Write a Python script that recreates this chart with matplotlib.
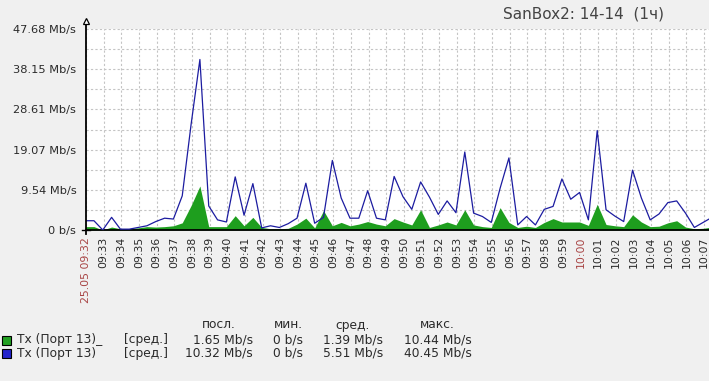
import numpy as np
import pandas as pd
import matplotlib
matplotlib.use('Agg')
import matplotlib.pyplot as plt
import matplotlib.dates as mdates
from matplotlib.patches import Rectangle

# ---------------- data ----------------
sample_start = '2023-05-25 09:31:57'   # 30 s sampling
blue_mbps = [2.2, 2.2, 0.0, 3.0, 0.2, 0.2, 0.6, 1.0, 2.0, 2.8,
             2.6, 8.1, 25.0, 40.45, 5.7, 2.4, 1.9, 12.6, 3.5, 11.0,
             0.5, 1.0, 0.6, 1.5, 2.8, 11.1, 1.6, 3.0, 16.5, 7.6,
             2.8, 2.8, 9.3, 2.8, 2.4, 12.7, 7.9, 4.9, 11.4, 7.8,
             3.7, 6.9, 4.1, 18.5, 4.0, 3.2, 1.8, 9.9, 17.1, 1.2,
             3.2, 1.2, 4.9, 5.6, 12.1, 7.3, 8.9, 2.4, 23.6, 4.8,
             3.3, 2.0, 14.2, 7.6, 2.4, 3.8, 6.5, 6.9, 4.0, 0.6,
             1.8, 3.0]
green_mbps = [0.8, 0.8, 0.0, 0.7, 0.3, 0.35, 0.5, 0.8, 0.7, 0.8,
              1.0, 1.7, 5.8, 10.44, 0.8, 0.8, 0.8, 3.4, 1.0, 3.0,
              0.6, 0.3, 0.3, 0.4, 1.4, 2.8, 0.5, 4.6, 1.0, 1.8,
              1.0, 1.4, 2.0, 1.4, 1.0, 2.7, 1.9, 1.2, 4.8, 0.6,
              1.2, 1.9, 1.2, 4.8, 1.2, 0.8, 0.6, 5.3, 1.8, 0.6,
              0.9, 0.6, 1.8, 2.7, 1.9, 1.9, 1.9, 1.1, 6.1, 1.3,
              1.0, 0.8, 3.6, 1.9, 0.8, 0.9, 1.7, 2.2, 0.7, 0.3,
              0.4, 0.7]

y_tick_values = [0, 9.536, 19.072, 28.608, 38.144, 47.68]
y_tick_labels = ['0 b/s', '9.54 Mb/s', '19.07 Mb/s', '28.61 Mb/s', '38.15 Mb/s', '47.68 Mb/s']
x_tick_labels = ['25.05 09:32'] + ['09:%02d' % m for m in range(33, 60)] + ['10:00'] + \
                ['10:%02d' % m for m in range(1, 8)]
red_tick_labels = ['25.05 09:32', '10:00']

title = 'SanBox2: 14-14  (1ч)'
legend_names = ['Tx (Порт 13)_', 'Tx (Порт 13)']
legend_func = '[сред.]'
legend_headers = ['посл.', 'мин.', 'сред.', 'макс.']
legend_last = ['1.65 Mb/s', '10.32 Mb/s']
legend_min = ['0 b/s', '0 b/s']
legend_avg = ['1.39 Mb/s', '5.51 Mb/s']
legend_max = ['10.44 Mb/s', '40.45 Mb/s']

green_color = '#1E9E1E'
blue_color = '#1C1CA0'
green_legend = '#22A022'
blue_legend = '#2222CC'
red_text = '#A84444'

# ---------------- figure ----------------
W, H = 709, 381
fig = plt.figure(figsize=(W / 100, H / 100), dpi=100, facecolor='#f0f0f0')
ax = fig.add_axes([86 / W, (H - 230) / H, 623 / W, 201 / H])
ax.set_facecolor('white')

times = pd.date_range(sample_start, periods=len(blue_mbps), freq='30s')
x_ticks = pd.date_range('2023-05-25 09:32', periods=len(x_tick_labels), freq='1min')

ax.fill_between(times, green_mbps, 0, color=green_color, lw=0, zorder=2)
ax.plot(times, blue_mbps, color=blue_color, lw=0.9, zorder=3)

x0 = mdates.date2num(pd.Timestamp('2023-05-25 09:32'))
ax.set_xlim(x0, x0 + 35.28 / 1440)
ax.set_ylim(0, 47.68)

ax.set_yticks(y_tick_values)
ax.set_yticklabels(y_tick_labels)
ax.set_yticks([4.768 * i for i in range(1, 11, 2)], minor=True)
ax.set_xticks(mdates.date2num(x_ticks))
ax.set_xticklabels(x_tick_labels, rotation=90, va='top', ha='center')

grid_kw = dict(color='#c4c4c4', linestyle=(0, (2, 2)), linewidth=0.8)
ax.grid(True, which='both', axis='both', zorder=1, **grid_kw)
ax.set_axisbelow(True)

ax.tick_params(axis='y', which='both', length=0, pad=7, labelsize=8.2, labelcolor='#2a2a2a')
ax.tick_params(axis='x', which='both', length=0, pad=5, labelsize=7.8, labelcolor='#2a2a2a')
for lbl in ax.get_xticklabels():
    if lbl.get_text() in red_tick_labels:
        lbl.set_color(red_text)

for side in ['top', 'right']:
    ax.spines[side].set_visible(False)
ax.spines['bottom'].set_color('black')
ax.spines['bottom'].set_linewidth(1.3)
ax.spines['left'].set_visible(False)
ax.plot([0, 0], [-0.02, 1.03], transform=ax.transAxes, color='black', lw=1.3, clip_on=False, zorder=5)
ax.plot([-0.006, 0.006], [0, 0], transform=ax.transAxes, color='black', lw=1.0, clip_on=False, zorder=5)
ax.plot([0], [1.04], transform=ax.transAxes, marker='^', ms=5, mfc='white', mec='black', mew=0.9,
        clip_on=False, zorder=6)

def px(x, y):
    return x / W, 1 - y / H

fig.text(*px(503, 14), title, fontsize=11, color='#444444', ha='left', va='center')

fs = 8.8
tc = '#2a2a2a'
header_x = [219, 288, 353, 437]
for hx, ht in zip(header_x, legend_headers):
    fig.text(*px(hx, 325), ht, fontsize=fs, color=tc, ha='center', va='center')

row_y = [340, 353]
sq_colors = [green_legend, blue_legend]
for i in range(2):
    ry = row_y[i]
    fig.add_artist(Rectangle(px(2, ry + 4.5), 9 / W, 9 / H, transform=fig.transFigure,
                             facecolor=sq_colors[i], edgecolor='black', lw=0.8))
    fig.text(*px(17, ry), legend_names[i], fontsize=fs, color=tc, ha='left', va='center')
    fig.text(*px(124, ry), legend_func, fontsize=fs, color=tc, ha='left', va='center')
    fig.text(*px(253, ry), legend_last[i], fontsize=fs, color=tc, ha='right', va='center')
    fig.text(*px(303, ry), legend_min[i], fontsize=fs, color=tc, ha='right', va='center')
    fig.text(*px(383, ry), legend_avg[i], fontsize=fs, color=tc, ha='right', va='center')
    fig.text(*px(472, ry), legend_max[i], fontsize=fs, color=tc, ha='right', va='center')

fig.savefig('out.png', dpi=100, facecolor=fig.get_facecolor())
